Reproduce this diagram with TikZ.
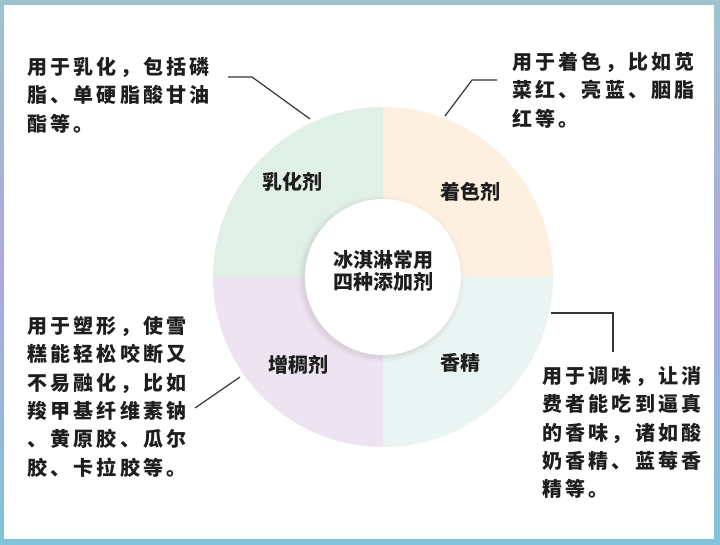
\documentclass[tikz,border=0pt]{standalone}
\usepackage{fontspec}
\newfontfamily\cjk{Noto Sans CJK SC}
\newfontfamily\cjksp[LetterSpace=16]{Noto Sans CJK SC}
\usetikzlibrary{calc}
\definecolor{cA}{HTML}{E1F0E7}
\definecolor{cB}{HTML}{FDF0E1}
\definecolor{cC}{HTML}{EAF4F2}
\definecolor{cD}{HTML}{EDE3F1}
\definecolor{ink}{HTML}{1E1E1E}
\definecolor{bTop}{HTML}{9DC4CE}
\definecolor{bMid}{HTML}{ADA9DC}
\definecolor{bBot}{HTML}{80C4DA}
\tikzset{
  seglabel/.style={inner sep=0pt, text=ink, align=center, font=\cjk\bfseries\fontsize{20}{23}\selectfont},
  note/.style={inner sep=0pt, anchor=north west, align=left, text=ink, font=\cjksp\bfseries\fontsize{20}{28.4}\selectfont},
  leader/.style={draw=ink!90, line width=1.2pt}
}
\begin{document}
\begin{tikzpicture}[x=1pt,y=-1pt]
\useasboundingbox (0,0) rectangle (720,545);
\shade[top color=bTop, bottom color=bBot, middle color=bMid] (0,0) rectangle (720,545);
\fill[white] (4,5) rectangle (714,539);
\coordinate (c) at (383,277);
\begin{scope}
  \clip (c) circle[radius=170pt];
  \fill[cA] (c) rectangle ++(-171,-171);
  \fill[cB] (c) rectangle ++(171,-171);
  \fill[cC] (c) rectangle ++(171,171);
  \fill[cD] (c) rectangle ++(-171,171);
\end{scope}
\foreach \r/\o in {84/0.012,82/0.016,80.5/0.02,79/0.025}{
  \fill[black, opacity=\o] ($(c)+(-2,2)$) circle[radius=\r pt];
}
\fill[white] (c) circle[radius=78pt];
\node[seglabel] (hub) at (383,271) {冰淇淋常用\\[-1pt]四种添加剂};
\node[seglabel] (l1) at (292,182) {乳化剂};
\node[seglabel] (l2) at (470,192) {着色剂};
\node[seglabel] (l3) at (298,365) {增稠剂};
\node[seglabel] (l4) at (460,363) {香精};
\node[note] (n1) at (27,57) {用于乳化，包括磷\\脂、单硬脂酸甘油\\酯等。};
\node[note] (n2) at (512,52) {用于着色，比如苋\\菜红、亮蓝、胭脂\\红等。};
\node[note] (n3) at (27,316) {用于塑形，使雪\\糕能轻松咬断又\\不易融化，比如\\羧甲基纤维素钠\\、黄原胶、瓜尔\\胶、卡拉胶等。};
\node[note] (n4) at (542,366) {用于调味，让消\\费者能吃到逼真\\的香味，诸如酸\\奶香精、蓝莓香\\精等。};
\coordinate (p1) at (310,119);
\coordinate (k1) at (252,77);
\coordinate (e1) at (228,77);
\coordinate (p2) at (445,116);
\coordinate (k2) at (472,80);
\coordinate (e2) at (497,80);
\coordinate (p3) at (240,377);
\coordinate (e3) at (195,408);
\coordinate (p4) at (551,313);
\coordinate (k4) at (613,313);
\coordinate (e4) at (613,352);
\draw[leader] (e1) -- (k1) -- (p1);
\draw[leader] (e2) -- (k2) -- (p2);
\draw[leader] (e3) -- (p3);
\draw[leader] (p4) -- (k4) -- (e4);
\end{tikzpicture}
\end{document}
